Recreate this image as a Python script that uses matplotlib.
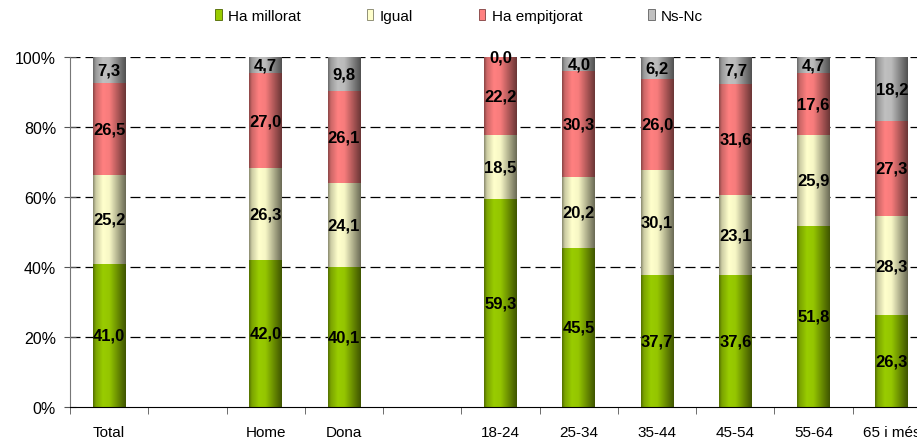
import numpy as np
import matplotlib
matplotlib.use('Agg')
import matplotlib.pyplot as plt
from matplotlib.patches import Patch
from matplotlib.colors import to_rgb

plt.rcParams['font.family'] = ['Liberation Sans', 'DejaVu Sans']

categories = ['Total', '', 'Home', 'Dona', '', '18-24', '25-34', '35-44', '45-54', '55-64', '65 i més']
series_names = ['Ha millorat', 'Igual', 'Ha empitjorat', 'Ns-Nc']
ha_millorat = [41.0, np.nan, 42.0, 40.1, np.nan, 59.3, 45.5, 37.7, 37.6, 51.8, 26.3]
igual = [25.2, np.nan, 26.3, 24.1, np.nan, 18.5, 20.2, 30.1, 23.1, 25.9, 28.3]
ha_empitjorat = [26.5, np.nan, 27.0, 26.1, np.nan, 22.2, 30.3, 26.0, 31.6, 17.6, 27.3]
ns_nc = [7.3, np.nan, 4.7, 9.8, np.nan, 0.0, 4.0, 6.2, 7.7, 4.7, 18.2]
series_colors = ['#99cc00', '#ffffcc', '#ff8080', '#c0c0c0']

series = [ha_millorat, igual, ha_empitjorat, ns_nc]
data = np.array(series, dtype=float)
totals = np.nansum(data, axis=0)
totals[totals == 0] = 1
pct = data / totals * 100

fig = plt.figure(figsize=(9.17, 4.39), dpi=100)
ax = fig.add_axes([70/917, 31/439, 861/917, 350/439])

x = np.arange(len(categories))
width = 0.42
prof_t = np.linspace(0, 1, 64)
prof = np.interp(prof_t, [0, 0.08, 0.3, 0.5, 1.0], [0.55, 0.8, 1.0, 0.97, 0.42])

bottom = np.zeros(len(categories))
handles = []
for vals, hv, name, col in zip(data, pct, series_names, series_colors):
    hh = np.nan_to_num(hv)
    bars = ax.bar(x, hh, width=width, bottom=bottom, color=col, linewidth=0, zorder=2)
    rgb = np.array(to_rgb(col))
    img = (prof[:, None] * rgb[None, :])[None, :, :]
    for rect, v in zip(bars, vals):
        if np.isnan(v):
            continue
        x0, y0, w, h = rect.get_x(), rect.get_y(), rect.get_width(), rect.get_height()
        if h > 0:
            ax.imshow(img, extent=[x0, x0 + w, y0, y0 + h], aspect='auto',
                      interpolation='bilinear', zorder=2.5)
        ax.text(x0 + w / 2, y0 + h / 2, f"{v:.1f}".replace('.', ','), ha='center', va='center',
                fontsize=12, fontweight='bold', zorder=4)
    bottom = bottom + hh
    handles.append(Patch(facecolor=col, edgecolor=tuple(rgb * 0.5), linewidth=0.6, label=name))

ax.set_xlim(-0.5, len(categories) - 0.5)
ax.set_ylim(0, 100)
ax.set_yticks([0, 20, 40, 60, 80, 100])
ax.set_yticklabels(['0%', '20%', '40%', '60%', '80%', '100%'], fontsize=11.5)
for yv in [20, 40, 60, 80, 100]:
    ax.axhline(yv, color='black', lw=0.9, ls=(0, (8, 4)), zorder=1)

ax.set_xticks(x)
ax.set_xticklabels(categories, fontsize=11)
ax.set_xticks(np.arange(-0.5, len(categories), 1), minor=True)
ax.tick_params(axis='x', which='major', length=0, pad=13)
ax.tick_params(axis='x', which='minor', length=5, direction='out', color='#555555')
ax.tick_params(axis='y', length=8, direction='inout', pad=6, color='#555555')

ax.spines['top'].set_visible(False)
ax.spines['right'].set_visible(False)
ax.spines['left'].set_color('#777777')
ax.spines['bottom'].set_color('black')

fig.legend(handles=handles, loc='center', bbox_to_anchor=(459/917, 1 - 17/439), ncol=4,
           frameon=False, handlelength=0.45, handleheight=0.75, handletextpad=0.4,
           columnspacing=4.3, fontsize=11)

fig.savefig('out.png', dpi=100)
